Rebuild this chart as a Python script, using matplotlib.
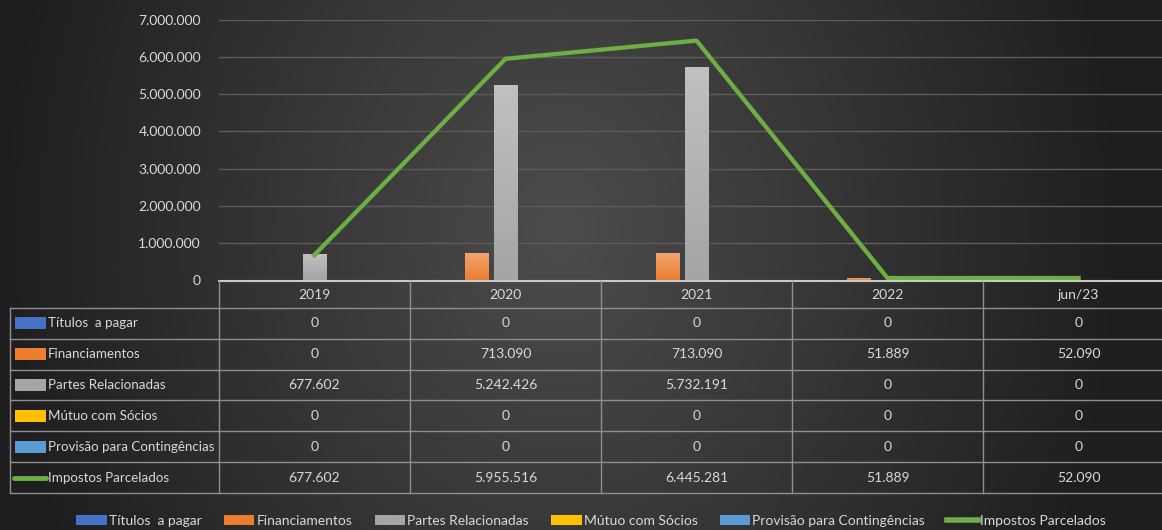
import numpy as np
import matplotlib.pyplot as plt
from matplotlib.colors import LinearSegmentedColormap, to_rgb
from matplotlib.patches import Rectangle
from matplotlib.lines import Line2D

plt.rcParams['font.family'] = ['Lato', 'DejaVu Sans']
FS = 10

# Data
categories = ["2019", "2020", "2021", "2022", "jun/23"]
bar_labels = ["Títulos  a pagar", "Financiamentos", "Partes Relacionadas",
              "Mútuo com Sócios", "Provisão para Contingências"]
titulos = [0, 0, 0, 0, 0]
financiamentos = [0, 713090, 713090, 51889, 52090]
partes = [677602, 5242426, 5732191, 0, 0]
mutuo = [0, 0, 0, 0, 0]
provisao = [0, 0, 0, 0, 0]
line_label = "Impostos Parcelados"
impostos = [677602, 5955516, 6445281, 51889, 52090]
yticks = [0, 1000000, 2000000, 3000000, 4000000, 5000000, 6000000, 7000000]

bar_values = [titulos, financiamentos, partes, mutuo, provisao]
bar_colors = ["#4472C4", "#ED7D31", "#A5A5A5", "#FFC000", "#5B9BD5"]
line_color = "#70AD47"
txt = "#d9d9d9"
grid_c = "#5c5c5c"
tab_c = "#8f8f8f"


def fmt(v):
    return f"{v:,}".replace(",", ".")


def lighter(c, f=0.3):
    r, g, b = to_rgb(c)
    return (r + (1 - r) * f, g + (1 - g) * f, b + (1 - b) * f)


W, H = 1162, 530
fig = plt.figure(figsize=(W / 100, H / 100), dpi=100)

# background radial gradient
bg = fig.add_axes([0, 0, 1, 1], zorder=-10)
yy, xx = np.mgrid[0:H, 0:W]
d = np.sqrt(((xx - 560) / 640.0) ** 2 + ((yy - 230) / 800.0) ** 2)
g = np.clip(76 - 52 * d, 30, 80) / 255.0
bg.imshow(np.dstack([g, g, g]), aspect='auto', extent=[0, W, H, 0])
bg.set_axis_off()

# main chart
cw = 191.0
ax = fig.add_axes([219 / W, 250 / H, 955 / W, 260 / H])
ax.set_facecolor('none')
x = np.arange(len(categories))
step, bw = 0.152, 0.125
for i, (vals, col) in enumerate(zip(bar_values, bar_colors)):
    cmap = LinearSegmentedColormap.from_list("c", [col, lighter(col)])
    for xi, v in zip(x + (i - 2) * step, vals):
        if v <= 0:
            continue
        grad = np.linspace(0, 1, 64).reshape(-1, 1)
        ax.imshow(grad, cmap=cmap, aspect='auto', origin='lower',
                  extent=[xi - bw / 2, xi + bw / 2, 0, v], zorder=2)
ax.plot(x, impostos, color="#3d6b27", lw=3.6, alpha=0.5, zorder=3)
ax.plot(x, impostos, color=line_color, lw=3.0, zorder=4)
ax.set_xlim(-0.5, 4.5)
ax.set_ylim(0, 7000000)
ax.set_yticks(yticks)
ax.set_yticklabels([fmt(v) for v in yticks], color=txt, fontsize=FS)
ax.tick_params(axis='y', length=0, pad=13)
ax.set_xticks([])
for s in ax.spines.values():
    s.set_visible(False)
for t in yticks[1:]:
    ax.axhline(t, color=grid_c, lw=1, zorder=1)

# data table
tab = fig.add_axes([10 / W, 37 / H, 1164 / W, 212 / H])
tab.set_facecolor('none')
x0 = -0.5 - 209 / cw
tab.set_xlim(x0, 4.5)
tab.set_ylim(212, 0)
tab.set_axis_off()


def px(p):
    return x0 + (p - 10) / cw


rows = [0, 27] + [27 + 30.83 * k for k in range(1, 7)]
tab.plot([-0.5, 4.5], [0, 0], color="#c8c8c8", lw=1.5, clip_on=False)
for r in rows[1:]:
    tab.plot([x0, 4.5], [r, r], color=tab_c, lw=1, clip_on=False)
tab.plot([x0, x0], [27, rows[-1]], color=tab_c, lw=1, clip_on=False)
for b in np.arange(-0.5, 4.6, 1.0):
    tab.plot([b, b], [0, rows[-1]], color=tab_c, lw=1, clip_on=False)

for xi, c in zip(x, categories):
    tab.text(xi, 14, c, color=txt, fontsize=FS, ha='center', va='center')

all_labels = bar_labels + [line_label]
all_values = bar_values + [impostos]
for k, (lab, vals) in enumerate(zip(all_labels, all_values)):
    yc = (rows[k + 1] + rows[k + 2]) / 2
    if k < len(bar_labels):
        tab.add_patch(Rectangle((px(15), yc - 6), px(46) - px(15), 12,
                                color=bar_colors[k], lw=0))
    else:
        tab.plot([px(14), px(46)], [yc, yc], color=line_color, lw=3.5,
                 solid_capstyle='round')
    tab.text(px(48), yc, lab, color=txt, fontsize=9.6, ha='left', va='center')
    for xi, v in zip(x, vals):
        tab.text(xi, yc, fmt(v), color=txt, fontsize=FS, ha='center', va='center')

# legend
handles = [Rectangle((0, 0), 1, 1, color=c, lw=0) for c in bar_colors]
handles.append(Line2D([], [], color=line_color, lw=4))
fig.legend(handles, all_labels, loc='center', bbox_to_anchor=(591 / W, 1 - 521 / H),
           ncol=6, frameon=False, fontsize=FS, labelcolor=txt,
           handlelength=2.2, handleheight=0.75, handletextpad=0.15,
           columnspacing=1.6)

fig.savefig("out.png", dpi=100)
